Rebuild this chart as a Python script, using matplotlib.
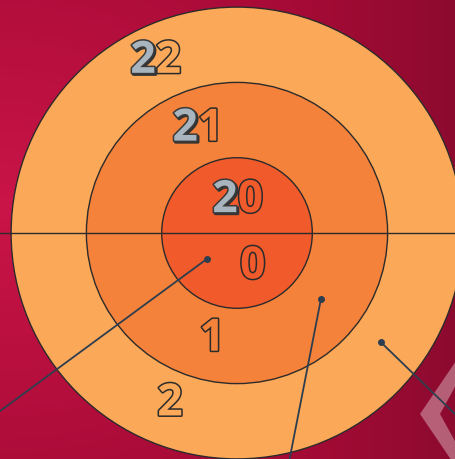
import numpy as np
import matplotlib
matplotlib.use("Agg")
import matplotlib.pyplot as plt
import matplotlib.patheffects as pe
from matplotlib.patches import Circle, Polygon

# ---- data ----
ring_index = [0, 1, 2]
ring_radius = [1.0, 2.0, 3.0]
ring_colors = ["#F15A2B", "#F4823A", "#FBA858"]
top_labels = ["20", "21", "22"]
top_label_x = [0.01, -0.52, -1.08]
top_label_y = [0.43, 1.38, 2.28]
bottom_labels = ["0", "1", "2"]
bottom_label_x = [0.21, -0.33, -0.89]
bottom_label_y = [-0.45, -1.41, -2.27]
point_x = [-0.40, 1.115, 1.91]
point_y = [-0.345, -0.876, -1.45]
line_end_x = [-3.4, 0.64, 3.2]
line_end_y = [-2.55, -3.3, -2.7]

W, H = 456, 460
scale = 75.3
cx, cy = 237, 234
xmin, xmax = -cx / scale, (W - cx) / scale
ymin, ymax = -(H - cy) / scale, cy / scale

fig = plt.figure(figsize=(4.56, 4.60), dpi=100)
ax = fig.add_axes([0, 0, 1, 1])
ax.set_xlim(xmin, xmax)
ax.set_ylim(ymin, ymax)
ax.set_aspect("auto")
ax.axis("off")

# background gradient
ny, nx = 230, 228
yy, xx = np.mgrid[0:ny, 0:nx]
u = xx / (nx - 1)
v = yy / (ny - 1)
bright = np.array([0.79, 0.08, 0.28])
dark_top = np.array([0.65, 0.04, 0.21])
dark_right = np.array([0.55, 0.04, 0.18])
d = np.sqrt(((u - 0.0) / 0.9) ** 2 + ((v - 0.45) / 0.7) ** 2)
t = np.clip(d, 0, 1)[..., None]
img = bright * (1 - t) + dark_top * t
r = np.clip((u - 0.6) / 0.4, 0, 1)[..., None] ** 1.3
img = img * (1 - r) + dark_right * r
ax.imshow(img, extent=[xmin, xmax, ymin, ymax], origin="upper", zorder=0, aspect="auto", interpolation="bilinear")

# chevron decoration
chev = Polygon([[ (420 - cx) / scale, -(415 - cy) / scale],
                [ (456 - cx) / scale, -(362 - cy) / scale],
                [ (456 - cx) / scale, -(386 - cy) / scale],
                [ (440 - cx) / scale, -(415 - cy) / scale],
                [ (456 - cx) / scale, -(444 - cy) / scale],
                [ (456 - cx) / scale, -(468 - cy) / scale]],
               closed=True, facecolor="white", alpha=0.35, edgecolor="none", zorder=0.5)
ax.add_patch(chev)

# rings
for i in reversed(ring_index):
    ax.add_patch(Circle((0, 0), ring_radius[i], facecolor=ring_colors[i],
                        edgecolor="#2b2b2b", linewidth=1.0, zorder=1 + (2 - i) * 0.1))

# horizontal divider
ax.plot([xmin, xmax], [0, 0], color="#2b2b2b", linewidth=1.0, zorder=2)

# annotation lines and points
for px, py, ex, ey in zip(point_x, point_y, line_end_x, line_end_y):
    ax.plot([px, ex], [py, ey], color="#2E3E4E", linewidth=1.3, zorder=3)
    ax.plot([px], [py], marker="o", markersize=4, color="#2E3E4E", zorder=3)

font = dict(family=["Open Sans", "DejaVu Sans"], weight="bold", size=32)
outline = [pe.withStroke(linewidth=2.2, foreground="#2b2b2b")]
gray_fx = [pe.Stroke(linewidth=2.4, foreground="#333333", offset=(1.0, -1.0)),
           pe.withStroke(linewidth=2.2, foreground="#3a3a3a")]

fig.canvas.draw()
renderer = fig.canvas.get_renderer()
inv = ax.transData.inverted()

def text_width_data(s):
    t = ax.text(0, 0, s, ha="left", va="center", **font)
    bb = t.get_window_extent(renderer)
    t.remove()
    return inv.transform((bb.x1, 0))[0] - inv.transform((bb.x0, 0))[0]

def draw_label(x, y, txt, ring, gray_first):
    if not gray_first:
        ax.text(x, y, txt, ha="center", va="center", color=ring_colors[ring],
                path_effects=outline, zorder=4, **font)
        return
    full_w = text_width_data(txt)
    first_w = text_width_data(txt[0])
    lx = x - full_w / 2
    ax.text(lx, y, txt[0], ha="left", va="center", color="#A8B4BE",
            path_effects=gray_fx, zorder=5, **font)
    ax.text(lx + first_w, y, txt[1:], ha="left", va="center", color=ring_colors[ring],
            path_effects=outline, zorder=4, **font)

for i in ring_index:
    draw_label(top_label_x[i], top_label_y[i], top_labels[i], i, True)
    draw_label(bottom_label_x[i], bottom_label_y[i], bottom_labels[i], i, False)

fig.savefig("out.png", dpi=100)
